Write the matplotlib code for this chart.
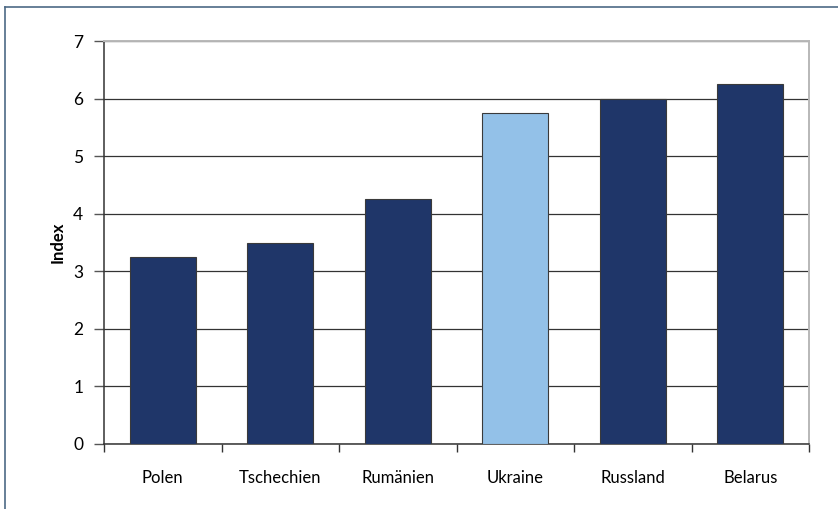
import matplotlib.pyplot as plt
from matplotlib.lines import Line2D
import numpy as np

plt.rcParams['font.family'] = ['Lato', 'DejaVu Sans']

# values
countries = ['Polen', 'Tschechien', 'Rumänien', 'Ukraine', 'Russland', 'Belarus']
index_vals = [3.25, 3.5, 4.25, 5.75, 6.0, 6.25]
highlight = 'Ukraine'

dark = '#1f3669'
light = '#93c1e8'
colors = [light if c == highlight else dark for c in countries]

fig = plt.figure(figsize=(8.38, 5.09), dpi=100)
ax = fig.add_axes([104/838, 1 - 444/509, (809 - 104)/838, (444 - 41)/509])

x = np.arange(len(countries))
ax.bar(x, index_vals, width=0.56, color=colors, edgecolor='#3a3a3a', linewidth=0.8, zorder=3)

ax.set_xlim(-0.5, len(countries) - 0.5)
ax.set_ylim(0, 7)
ax.set_yticks(range(0, 8))
ax.yaxis.grid(True, color='#333333', linewidth=0.9, zorder=0)
ax.set_axisbelow(True)

# category labels centered, tick marks on the boundaries
ax.set_xticks(x)
ax.set_xticklabels(countries, fontsize=12)
ax.tick_params(axis='x', which='major', length=0, pad=19)
ax.set_xticks(np.arange(-0.5, len(countries)), minor=True)
ax.tick_params(axis='x', which='minor', length=6, width=1, color='#333333', direction='out')
ax.tick_params(axis='y', length=7, width=1, color='#555555', labelsize=12.5, pad=8)

ax.set_ylabel('Index', fontsize=12, fontweight='bold')
ax.yaxis.set_label_coords(-0.054, 0.5)

for s in ['left', 'bottom']:
    ax.spines[s].set_color('#333333')
    ax.spines[s].set_linewidth(1.1)
for s in ['top', 'right']:
    ax.spines[s].set_color('#b8b8b8')
    ax.spines[s].set_linewidth(1.4)

# outer frame (left and top edges visible)
frame_c = '#4d6985'
fig.add_artist(Line2D([5/838, 5/838], [0, 1 - 7/509], color=frame_c, linewidth=1.2))
fig.add_artist(Line2D([5/838, 1], [1 - 7/509, 1 - 7/509], color=frame_c, linewidth=1.2))

fig.savefig('out.png', dpi=100)
